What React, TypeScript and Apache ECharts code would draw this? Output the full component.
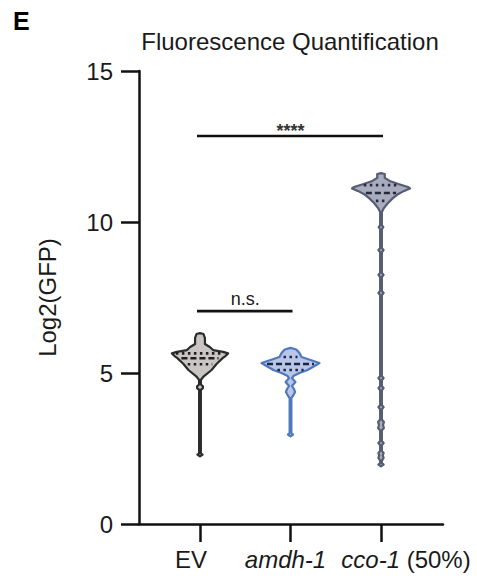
import React, { useEffect, useRef } from 'react';
import * as echarts from 'echarts';

// ---------- data ----------
const categories = ['EV', 'amdh-1', 'cco-1 (50%)'];
const yTicks = [0, 5, 10, 15];

// violin outlines: [Log2(GFP) value, relative half width (1 = widest violin)]
const evProfile: number[][] = [
  [6.32, 0], [6.29, 0.12], [6.16, 0.17], [5.96, 0.17], [5.86, 0.34], [5.76, 0.45],
  [5.7, 0.8], [5.65, 0.97], [5.56, 0.88], [5.5, 0.79], [5.3, 0.57], [5.1, 0.4],
  [4.88, 0.12], [4.77, 0.03], [4.62, 0.03], [4.56, 0.1], [4.5, 0.1], [4.44, 0.03],
  [2.34, 0.03], [2.3, 0.09], [2.24, 0],
];
const amdhProfile: number[][] = [
  [5.83, 0], [5.78, 0.2], [5.66, 0.31], [5.53, 0.38], [5.43, 0.69], [5.33, 1.0],
  [5.23, 0.83], [5.1, 0.59], [5.0, 0.31], [4.9, 0.1], [4.83, 0.05], [4.7, 0.17],
  [4.57, 0.05], [4.47, 0.12], [4.37, 0.16], [4.27, 0.1], [4.17, 0.03],
  [3.01, 0.03], [2.96, 0.09], [2.9, 0],
];
const ccoProfile: number[][] = [
  [11.62, 0], [11.59, 0.13], [11.46, 0.13], [11.36, 0.3], [11.26, 0.6], [11.16, 0.93],
  [11.11, 1.0], [11.03, 0.8], [10.93, 0.6], [10.79, 0.41], [10.63, 0.24], [10.46, 0.1],
  [10.33, 0.03],
  [9.9, 0.03], [9.83, 0.08], [9.76, 0.03],
  [9.14, 0.03], [9.07, 0.09], [9.0, 0.03],
  [8.32, 0.03], [8.25, 0.09], [8.18, 0.03],
  [7.72, 0.03], [7.65, 0.09], [7.58, 0.03],
  [4.9, 0.03], [4.83, 0.09], [4.76, 0.03],
  [4.57, 0.03], [4.5, 0.09], [4.43, 0.03],
  [3.94, 0.03], [3.87, 0.09], [3.8, 0.03],
  [3.46, 0.03], [3.38, 0.1], [3.28, 0.07], [3.18, 0.1], [3.1, 0.03],
  [2.75, 0.03], [2.68, 0.09], [2.61, 0.03],
  [2.42, 0.03], [2.35, 0.09], [2.27, 0.06], [2.19, 0.09], [2.1, 0.03],
  [2.02, 0.03], [1.97, 0.09], [1.91, 0],
];
const profiles = [evProfile, amdhProfile, ccoProfile];

// [Q1, median, Q3]
const evQuartiles = [5.29, 5.49, 5.65];
const amdhQuartiles = [5.1, 5.3, 5.53];
const ccoQuartiles = [10.7, 10.96, 11.22];
const quartiles = [evQuartiles, amdhQuartiles, ccoQuartiles];

// significance bars
const sigFrom = [0, 0];
const sigTo = [2, 1];
const sigHeight = [12.85, 7.05];
const sigLabels = ['****', 'n.s.'];

// ---------- styles ----------
const FONT = "'Liberation Sans', Arial, sans-serif";
const MAX_HALF = 0.32; // x units
const fills = ['#c9c5c5', '#b9c6e8', '#a9abbe'];
const strokes = ['#2b2b2b', '#4f78be', '#565c72'];
const innerLines = ['#1e1e1e', '#1c2540', '#262b3a'];

function widthAt(prof: number[][], v: number): number {
  for (let i = 0; i < prof.length - 1; i++) {
    const [v1, w1] = prof[i];
    const [v2, w2] = prof[i + 1];
    if ((v <= v1 && v >= v2) || (v >= v1 && v <= v2)) {
      const t = v1 === v2 ? 0 : (v - v1) / (v2 - v1);
      return w1 + (w2 - w1) * t;
    }
  }
  return 0;
}

export default function App() {
  const ref = useRef<HTMLDivElement>(null);
  useEffect(() => {
    if (!ref.current) return;
    const chart = echarts.init(ref.current, undefined, { renderer: 'svg' });
    const base = { fontSize: 24, fontFamily: FONT, color: '#1a1a1a' };
    const labelRich = {
      n0: { ...base, padding: [0, 18, 0, 0] },
      i1: { ...base, fontStyle: 'italic', padding: [0, 10, 0, 0] },
      i2: { ...base, fontStyle: 'italic', padding: [0, 0, 0, 50] },
      n2: { ...base },
    };
    chart.setOption({
      animation: false,
      backgroundColor: '#ffffff',
      graphic: [
        { type: 'text', x: 13, y: 21, style: { text: 'E', fontSize: 25, fontWeight: 'bold', fontFamily: FONT, fill: '#000', align: 'left', verticalAlign: 'middle' } },
        { type: 'text', x: 290, y: 41, style: { text: 'Fluorescence Quantification', fontSize: 24, fontFamily: FONT, fill: '#1a1a1a', align: 'center', verticalAlign: 'middle' } },
      ],
      grid: { left: 139, right: 34, top: 71, bottom: 56 },
      xAxis: {
        type: 'value',
        min: -0.674,
        max: 2.685,
        splitLine: { show: false },
        axisLine: { show: true, onZero: false, lineStyle: { color: '#111', width: 2.5 } },
        axisTick: { show: true, customValues: [0, 1, 2], length: 18, lineStyle: { color: '#111', width: 2.5 } },
        axisLabel: {
          customValues: [0, 1, 2],
          margin: 23,
          hideOverlap: false,
          showMinLabel: true,
          showMaxLabel: true,
          formatter: (v: number) => {
            const i = Math.round(v);
            if (i === 0) return '{n0|' + categories[0] + '}';
            if (i === 1) return '{i1|' + categories[1] + '}';
            const parts = categories[2].split(' ');
            return '{i2|' + parts[0] + '}{n2| ' + parts.slice(1).join(' ') + '}';
          },
          rich: labelRich,
        },
      },
      yAxis: {
        type: 'value',
        min: yTicks[0],
        max: yTicks[yTicks.length - 1],
        interval: yTicks[1] - yTicks[0],
        name: 'Log2(GFP)',
        nameLocation: 'middle',
        nameRotate: 90,
        nameGap: 80,
        nameTextStyle: { fontSize: 24, fontFamily: FONT, color: '#1a1a1a' },
        splitLine: { show: false },
        axisLine: { show: true, onZero: false, lineStyle: { color: '#111', width: 2.5 } },
        axisTick: { show: true, length: 18, lineStyle: { color: '#111', width: 2.5 } },
        axisLabel: { fontSize: 24, fontFamily: FONT, color: '#1a1a1a', margin: 26 },
      },
      series: [
        {
          type: 'custom',
          clip: false,
          data: categories.map((_, i) => [i, 0]),
          encode: { x: 0, y: 1 },
          renderItem: (params: any, api: any) => {
            const idx = api.value(0);
            const prof = profiles[idx];
            const cx = api.coord([idx, 0])[0];
            const unit = api.size([1, 0])[0];
            const maxHalf = MAX_HALF * unit;
            const right = prof.map(([v, w]) => [cx + w * maxHalf, api.coord([idx, v])[1]]);
            const left = prof.slice().reverse().map(([v, w]) => [cx - w * maxHalf, api.coord([idx, v])[1]]);
            const children: any[] = [
              {
                type: 'polygon',
                shape: { points: right.concat(left) },
                style: { fill: fills[idx], stroke: strokes[idx], lineWidth: 2.2, lineJoin: 'round' },
              },
            ];
            quartiles[idx].forEach((q, k) => {
              const w = widthAt(prof, q) * maxHalf - 4;
              const y = api.coord([idx, q])[1];
              children.push({
                type: 'line',
                shape: { x1: cx - w, y1: y, x2: cx + w, y2: y },
                style: { stroke: innerLines[idx], lineWidth: 2.6, lineDash: k === 1 ? [6, 3] : [2.5, 3.5] },
              });
            });
            return { type: 'group', children };
          },
        },
        {
          type: 'custom',
          clip: false,
          data: sigFrom.map((f, i) => [f, sigTo[i], sigHeight[i], i]),
          encode: { x: [0, 1], y: 2 },
          renderItem: (params: any, api: any) => {
            const a = api.coord([api.value(0), api.value(2)]);
            const b = api.coord([api.value(1), api.value(2)]);
            const label = sigLabels[api.value(3)];
            const stars = label.indexOf('*') >= 0;
            return {
              type: 'group',
              children: [
                { type: 'line', shape: { x1: a[0] - 3, y1: a[1], x2: b[0] + 2, y2: b[1] }, style: { stroke: '#111', lineWidth: 2.6 } },
                {
                  type: 'text',
                  x: (a[0] + b[0]) / 2,
                  y: a[1] - (stars ? 5 : 12),
                  style: { text: label, fontSize: 18, fontWeight: stars ? 'bold' : 'normal', fontFamily: FONT, fill: stars ? '#333' : '#1a1a1a', align: 'center', verticalAlign: 'middle' },
                },
              ],
            };
          },
        },
      ],
    });
    return () => chart.dispose();
  }, []);
  return <div ref={ref} style={{ position: 'fixed', left: 0, top: 0, width: 477, height: 580 }} />;
}
